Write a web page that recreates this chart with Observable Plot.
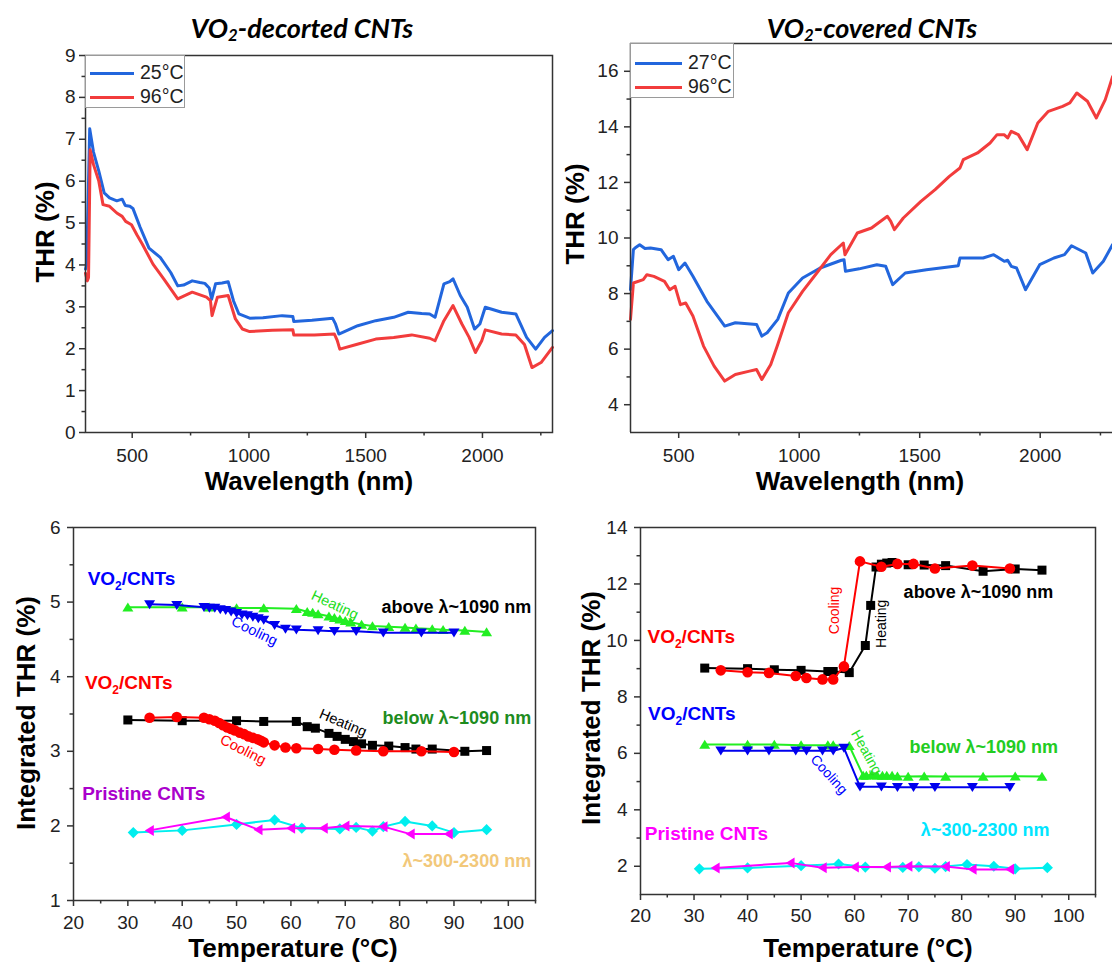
<!DOCTYPE html>
<html>
<head>
<meta charset="utf-8">
<script src="https://cdn.jsdelivr.net/npm/d3@7"></script>
<script src="https://cdn.jsdelivr.net/npm/@observablehq/plot@0.6"></script>
<style>
  html, body { margin: 0; padding: 0; background: #fff; overflow: hidden; }
  #page { position: relative; width: 1112px; height: 968px; font-family: "Liberation Sans", Arial, sans-serif; color: #000; }
  .title { position: absolute; font-family: Lato, "Open Sans", sans-serif; font-weight: bold; font-style: italic; font-size: 27px; line-height: 1; white-space: nowrap; transform: translate(-50%, -50%); }
  .title sub { font-size: 0.62em; vertical-align: -0.22em; line-height: 0; }
  .axtitle { position: absolute; font-weight: bold; font-size: 26px; line-height: 0.8; white-space: nowrap; transform: translate(-50%, -50%); }
  .axtitle.rot { transform: translate(-50%, -50%) rotate(-90deg); }
  .legend { position: absolute; box-sizing: border-box; border: 1px solid #9a9a9a; background: #fff; }
  .legend .sw { position: absolute; height: 3px; }
  .legend .lb { position: absolute; font-size: 19.5px; line-height: 1; transform: translateY(-50%); white-space: nowrap; color: #222; }
</style>
</head>
<body>
<div id="page"></div>
<script>
// ---------- Spectra: VO2-decorated CNTs ----------
const aWl25  = [300, 305, 318, 334, 357, 380, 403, 434, 457, 470, 490, 503, 534, 572, 620, 665, 695, 720, 757, 790, 811, 830, 840, 857, 885, 911, 934, 957, 1003, 1060, 1142, 1188, 1192, 1270, 1358, 1370, 1385, 1466, 1543, 1620, 1682, 1740, 1774, 1797, 1835, 1860, 1874, 1905, 1935, 1966, 1989, 2012, 2082, 2143, 2189, 2228, 2266, 2300];
const aThr25 = [3.90, 4.00, 7.25, 6.70, 6.24, 5.72, 5.60, 5.53, 5.57, 5.42, 5.40, 5.35, 4.90, 4.40, 4.18, 3.82, 3.50, 3.52, 3.62, 3.58, 3.56, 3.45, 3.18, 3.55, 3.57, 3.60, 3.14, 2.83, 2.73, 2.74, 2.79, 2.77, 2.65, 2.68, 2.73, 2.60, 2.35, 2.55, 2.67, 2.75, 2.87, 2.84, 2.83, 2.75, 3.55, 3.60, 3.67, 3.27, 2.99, 2.47, 2.59, 2.99, 2.87, 2.83, 2.27, 1.99, 2.27, 2.43];
const aWl96  = [300, 308, 313, 320, 334, 357, 375, 403, 434, 457, 472, 497, 520, 543, 589, 635, 695, 757, 818, 835, 842, 865, 911, 942, 972, 1003, 1100, 1188, 1192, 1280, 1366, 1378, 1389, 1460, 1543, 1620, 1697, 1774, 1797, 1835, 1874, 1912, 1943, 1970, 1997, 2012, 2082, 2143, 2180, 2212, 2251, 2300];
const aThr96 = [3.80, 3.62, 3.70, 6.75, 6.40, 6.00, 5.44, 5.40, 5.24, 5.16, 5.04, 4.96, 4.72, 4.50, 4.02, 3.67, 3.19, 3.35, 3.23, 3.15, 2.79, 3.23, 3.27, 2.71, 2.47, 2.41, 2.44, 2.45, 2.33, 2.33, 2.35, 2.20, 1.99, 2.10, 2.23, 2.27, 2.33, 2.25, 2.19, 2.67, 3.03, 2.59, 2.27, 1.91, 2.19, 2.45, 2.35, 2.33, 2.10, 1.55, 1.67, 2.03];

// ---------- Spectra: VO2-covered CNTs ----------
const bWl27  = [300, 312, 320, 338, 360, 383, 427, 456, 478, 500, 526, 559, 617, 691, 735, 823, 845, 867, 911, 955, 1014, 1087, 1175, 1186, 1192, 1249, 1322, 1359, 1388, 1440, 1528, 1660, 1667, 1675, 1763, 1807, 1851, 1865, 1880, 1902, 1939, 1998, 2057, 2101, 2130, 2189, 2218, 2262, 2300];
const bThr27 = [8.14, 9.58, 9.65, 9.76, 9.62, 9.64, 9.58, 9.22, 9.34, 8.86, 9.10, 8.62, 7.72, 6.83, 6.95, 6.89, 6.47, 6.59, 7.07, 8.02, 8.56, 8.92, 9.20, 9.22, 8.80, 8.89, 9.04, 8.98, 8.32, 8.74, 8.86, 9.00, 9.28, 9.28, 9.28, 9.40, 9.16, 9.20, 8.98, 8.92, 8.14, 9.04, 9.28, 9.40, 9.72, 9.46, 8.74, 9.16, 9.76];
const bWl96  = [300, 312, 353, 368, 397, 441, 463, 485, 507, 529, 559, 603, 647, 691, 735, 794, 823, 845, 882, 911, 955, 1014, 1073, 1131, 1183, 1190, 1241, 1300, 1366, 1380, 1395, 1432, 1505, 1564, 1623, 1667, 1681, 1740, 1792, 1821, 1850, 1865, 1880, 1909, 1946, 1990, 2034, 2093, 2123, 2152, 2196, 2233, 2270, 2300];
const bThr96 = [7.07, 8.38, 8.50, 8.68, 8.62, 8.44, 8.14, 8.26, 7.60, 7.66, 7.19, 6.11, 5.39, 4.85, 5.09, 5.21, 5.27, 4.91, 5.45, 6.17, 7.31, 8.08, 8.74, 9.40, 9.82, 9.40, 10.18, 10.36, 10.78, 10.60, 10.30, 10.72, 11.32, 11.74, 12.22, 12.52, 12.82, 13.06, 13.42, 13.72, 13.72, 13.60, 13.84, 13.72, 13.18, 14.14, 14.56, 14.74, 14.86, 15.22, 14.92, 14.32, 14.98, 15.80];

// ---------- Integrated THR vs temperature: VO2-decorated ----------
const cHeatAboveT = [30, 40, 45, 50, 55, 61, 63, 64, 65, 67, 68, 69, 70, 71, 73, 75, 78, 81, 83, 86, 88, 92, 96];
const cHeatAboveV = [4.93, 4.93, 4.93, 4.92, 4.92, 4.91, 4.87, 4.86, 4.84, 4.81, 4.79, 4.77, 4.75, 4.73, 4.70, 4.68, 4.67, 4.66, 4.65, 4.64, 4.63, 4.62, 4.60];
const cCoolAboveT = [34, 39, 44, 45, 46, 47, 48, 49, 50, 51, 52, 53, 54, 55, 57, 59, 61, 65, 68, 72, 77, 84, 90];
const cCoolAboveV = [4.97, 4.96, 4.93, 4.92, 4.92, 4.90, 4.89, 4.87, 4.85, 4.83, 4.82, 4.80, 4.78, 4.76, 4.69, 4.64, 4.63, 4.62, 4.61, 4.61, 4.59, 4.59, 4.59];
const cHeatBelowT = [30, 40, 50, 55, 61, 63, 64.5, 67, 68.5, 70, 71.5, 73, 75, 78, 81, 83, 86, 92, 96];
const cHeatBelowV = [3.42, 3.41, 3.41, 3.40, 3.40, 3.33, 3.31, 3.24, 3.20, 3.16, 3.13, 3.10, 3.08, 3.07, 3.05, 3.03, 3.03, 3.00, 3.01];
const cCoolBelowT = [34, 39, 44, 45, 46, 46.8, 47.5, 48.3, 49, 49.7, 50.6, 51.4, 52.2, 53, 53.9, 54.5, 55, 57, 59, 61, 65, 68, 72, 77, 84, 90];
const cCoolBelowV = [3.45, 3.46, 3.45, 3.43, 3.41, 3.38, 3.35, 3.32, 3.30, 3.28, 3.25, 3.23, 3.20, 3.18, 3.16, 3.14, 3.12, 3.08, 3.05, 3.04, 3.03, 3.02, 3.01, 3.00, 3.00, 2.99];

// ---------- Integrated THR vs temperature: VO2-covered ----------
const dHeatAboveT = [32, 40, 45, 50, 55, 56, 59, 62, 63, 64, 65, 66, 67, 70, 73, 77, 84, 90, 95];
const dHeatAboveV = [9.02, 9.00, 8.96, 8.94, 8.90, 8.90, 8.86, 9.82, 11.24, 12.60, 12.70, 12.74, 12.76, 12.68, 12.67, 12.65, 12.45, 12.53, 12.49];
const dCoolAboveT = [35, 40, 44, 49, 51, 54, 56, 58, 61, 65, 68, 71, 75, 82, 89];
const dCoolAboveV = [8.94, 8.87, 8.85, 8.74, 8.67, 8.62, 8.62, 9.08, 12.80, 12.61, 12.71, 12.71, 12.55, 12.65, 12.55];
const dHeatBelowT = [32, 40, 45, 50, 55, 56, 59, 61.6, 62.2, 63.2, 64.2, 65.2, 66, 67, 68, 70, 73, 77, 84, 90, 95];
const dHeatBelowV = [6.31, 6.31, 6.31, 6.29, 6.29, 6.29, 6.27, 5.21, 5.21, 5.24, 5.21, 5.21, 5.21, 5.21, 5.19, 5.18, 5.19, 5.18, 5.18, 5.19, 5.18];
const dCoolBelowT = [35, 40, 44, 49, 51, 54, 56, 58, 61, 65, 68, 71, 75, 82, 89];
const dCoolBelowV = [6.09, 6.09, 6.09, 6.09, 6.09, 6.09, 6.09, 6.19, 4.82, 4.82, 4.80, 4.80, 4.80, 4.80, 4.80];

// ---------- Pristine CNTs (λ~300-2300 nm) ----------
const prHeatT = [31, 40, 50, 57, 62, 69, 72, 75, 77, 81, 86, 90, 96];
const prHeatV = [1.91, 1.94, 2.02, 2.08, 1.97, 1.96, 1.98, 1.93, 1.99, 2.06, 2.00, 1.91, 1.95];
const prCoolT = [34, 48, 54, 60, 66, 70, 77, 82, 89];
const prCoolV = [1.94, 2.12, 1.95, 1.97, 1.97, 2.00, 1.99, 1.89, 1.89];

// ---------- Tick values ----------
const wlTicks = [500, 1000, 1500, 2000];
const wlMinor = [750, 1250, 1750, 2250];
const aYTicks = [0, 1, 2, 3, 4, 5, 6, 7, 8, 9];
const aYMinor = [0.5, 1.5, 2.5, 3.5, 4.5, 5.5, 6.5, 7.5, 8.5];
const bYTicks = [4, 6, 8, 10, 12, 14, 16];
const bYMinor = [5, 7, 9, 11, 13, 15];
const tTicks = [20, 30, 40, 50, 60, 70, 80, 90, 100];
const tMinor = [25, 35, 45, 55, 65, 75, 85, 95, 105];
const cYTicks = [1, 2, 3, 4, 5, 6];
const cYMinor = [1.5, 2.5, 3.5, 4.5, 5.5];
const dYTicks = [2, 4, 6, 8, 10, 12, 14];
const dYMinor = [3, 5, 7, 9, 11, 13];

// ---------- Marker shapes ----------
const k5 = s => Math.sqrt(s / Math.PI) / 5;
const sym = {
  up:     {draw(c, s) { const k = k5(s); c.moveTo(0, -4.8 * k); c.lineTo(5.5 * k, 4.2 * k); c.lineTo(-5.5 * k, 4.2 * k); c.closePath(); }},
  down:   {draw(c, s) { const k = k5(s); c.moveTo(-5.5 * k, -4.2 * k); c.lineTo(5.5 * k, -4.2 * k); c.lineTo(0, 4.8 * k); c.closePath(); }},
  left:   {draw(c, s) { const k = k5(s); c.moveTo(-4.8 * k, 0); c.lineTo(4.2 * k, -5.5 * k); c.lineTo(4.2 * k, 5.5 * k); c.closePath(); }},
  square: {draw(c, s) { const k = k5(s), h = 4.5 * k; c.rect(-h, -h, 2 * h, 2 * h); }},
  diamond:{draw(c, s) { const k = k5(s), h = 5.6 * k; c.moveTo(0, -h); c.lineTo(h, 0); c.lineTo(0, h); c.lineTo(-h, 0); c.closePath(); }},
  circle: {draw(c, s) { const k = k5(s), r = 5.3 * k; c.moveTo(r, 0); c.arc(0, 0, r, 0, 2 * Math.PI); }}
};

const page = document.getElementById("page");
const FONT = "'Liberation Sans', Arial, sans-serif";

function spectrum(xs, ys, color) {
  return Plot.line(ys, {x: xs, y: ys, stroke: color, strokeWidth: 3, strokeLinejoin: "round"});
}
function series(xs, ys, color, shape) {
  return [
    Plot.line(ys, {x: xs, y: ys, stroke: color, strokeWidth: 2}),
    Plot.dot(ys, {x: xs, y: ys, fill: color, stroke: "none", r: 5, symbol: shape})
  ];
}
function note(text, x, y, fill, o = {}) {
  return Plot.text([text], {
    x: [x], y: [y], text: d => d, fill,
    fontFamily: FONT,
    fontSize: o.size ?? 19,
    fontWeight: o.weight ?? "bold",
    textAnchor: o.anchor ?? "start",
    rotate: o.rotate ?? 0
  });
}
function axes(xT, xM, yT, yM, xPad, yPad) {
  const fmt = d => String(d);
  return [
    Plot.axisX(xT, {tickSize: 6, tickPadding: xPad, strokeWidth: 1.5, stroke: "#333", fill: "#222", tickFormat: fmt, label: null}),
    Plot.axisX(xM, {tickSize: 3.5, strokeWidth: 1.5, stroke: "#333", tickFormat: () => "", label: null}),
    Plot.axisY(yT, {tickSize: 6, tickPadding: yPad, strokeWidth: 1.5, stroke: "#333", fill: "#222", tickFormat: fmt, label: null}),
    Plot.axisY(yM, {tickSize: 3.5, strokeWidth: 1.5, stroke: "#333", tickFormat: () => "", label: null})
  ];
}
function place(p, left, top, opts, marks) {
  const svg = Plot.plot({
    width: p.w, height: p.h,
    marginLeft: p.ml, marginRight: p.mr, marginTop: p.mt, marginBottom: p.mb,
    x: {domain: opts.x, label: null},
    y: {domain: opts.y, label: null},
    style: {fontFamily: FONT, fontSize: "19px", background: "none", overflow: "visible"},
    marks
  });
  // subscript 2 in "VO2/CNTs"
  svg.querySelectorAll("text").forEach(t => {
    if (t.textContent === "VO2/CNTs") {
      t.textContent = "";
      const ns = "http://www.w3.org/2000/svg";
      const parts = [["VO", null], ["2", "sub"], ["/CNTs", "back"]];
      for (const [s, kind] of parts) {
        const ts = document.createElementNS(ns, "tspan");
        ts.textContent = s;
        if (kind === "sub") { ts.setAttribute("font-size", "12"); ts.setAttribute("dy", "5"); }
        if (kind === "back") { ts.setAttribute("dy", "-5"); }
        t.appendChild(ts);
      }
    }
  });
  svg.style.position = "absolute";
  svg.style.left = left + "px";
  svg.style.top = top + "px";
  page.appendChild(svg);
}
function html(cls, content, left, top) {
  const d = document.createElement("div");
  d.className = cls;
  d.innerHTML = content;
  d.style.left = left + "px";
  d.style.top = top + "px";
  page.appendChild(d);
}
function legend(left, top, w, h, rows) {
  const d = document.createElement("div");
  d.className = "legend";
  Object.assign(d.style, {left: left + "px", top: top + "px", width: w + "px", height: h + "px"});
  for (const r of rows) {
    const s = document.createElement("div");
    s.className = "sw";
    Object.assign(s.style, {left: r.x0 + "px", width: (r.x1 - r.x0) + "px", top: (r.y - 1.5) + "px", background: r.color});
    const l = document.createElement("div");
    l.className = "lb";
    l.textContent = r.label;
    Object.assign(l.style, {left: r.tx + "px", top: r.y + "px"});
    d.appendChild(s); d.appendChild(l);
  }
  page.appendChild(d);
}

const BLUE = "#2266dd", RED = "#f23c3c";
const frame = Plot.frame({stroke: "#333", strokeWidth: 1.5});

// ---------- Top left: spectra, VO2-decorated CNTs ----------
place({w: 560, h: 500, ml: 85, mr: 8, mt: 55, mb: 68}, 0, 0, {x: [300, 2300], y: [0, 9]}, [
  spectrum(aWl25, aThr25, BLUE),
  spectrum(aWl96, aThr96, RED),
  ...axes(wlTicks, wlMinor, aYTicks, aYMinor, 10, 4),
  frame
]);
legend(85, 55, 100, 53, [
  {x0: 4, x1: 48, y: 17, tx: 54, color: BLUE, label: "25°C"},
  {x0: 4, x1: 48, y: 41, tx: 54, color: RED, label: "96°C"}
]);

// ---------- Top right: spectra, VO2-covered CNTs ----------
place({w: 552, h: 500, ml: 70, mr: 0, mt: 43, mb: 68}, 560, 0, {x: [300, 2300], y: [3, 17]}, [
  spectrum(bWl27, bThr27, BLUE),
  spectrum(bWl96, bThr96, RED),
  ...axes(wlTicks, wlMinor, bYTicks, bYMinor, 10, 6),
  Plot.ruleX([300], {stroke: "#333", strokeWidth: 1.5}),
  Plot.ruleY([3, 17], {stroke: "#333", strokeWidth: 1.5})
]);
legend(630, 43, 104, 55, [
  {x0: 4, x1: 51, y: 19, tx: 57, color: BLUE, label: "27°C"},
  {x0: 4, x1: 51, y: 43, tx: 57, color: RED, label: "96°C"}
]);

// ---------- Bottom left: integrated THR, VO2-decorated CNTs ----------
place({w: 560, h: 468, ml: 73, mr: 25, mt: 27, mb: 68}, 0, 500, {x: [20, 105], y: [1, 6]}, [
  ...series(cHeatAboveT, cHeatAboveV, "#22ee22", sym.up),
  ...series(cCoolAboveT, cCoolAboveV, "#0000ee", sym.down),
  ...series(cHeatBelowT, cHeatBelowV, "#000000", sym.square),
  ...series(cCoolBelowT, cCoolBelowV, "#ff0000", sym.circle),
  ...series(prHeatT, prHeatV, "#00eeee", sym.diamond),
  ...series(prCoolT, prCoolV, "#ff00ff", sym.left),
  note("VO2/CNTs", 22.6, 5.31, "#0000ff"),
  note("above λ~1090 nm", 104.2, 4.93, "#000", {anchor: "end", size: 18}),
  note("Heating", 68.1, 4.96, "#22dd22", {weight: "normal", size: 14.5, rotate: 25, anchor: "middle"}),
  note("Cooling", 53.3, 4.61, "#0000ff", {weight: "normal", size: 14.5, rotate: 26, anchor: "middle"}),
  note("VO2/CNTs", 22.1, 3.92, "#ff0000"),
  note("below λ~1090 nm", 104.2, 3.44, "#1e8c1e", {anchor: "end", size: 18}),
  note("Heating", 69.6, 3.38, "#000", {weight: "normal", size: 14.5, rotate: 23, anchor: "middle"}),
  note("Cooling", 51.2, 3.02, "#ff0000", {weight: "normal", size: 14.5, rotate: 27, anchor: "middle"}),
  note("Pristine CNTs", 21.6, 2.43, "#aa00cc"),
  note("λ~300-2300 nm", 104.2, 1.53, "#f2c87a", {anchor: "end", size: 18}),
  ...axes(tTicks, tMinor, cYTicks, cYMinor, 9, 7),
  frame
]);

// ---------- Bottom right: integrated THR, VO2-covered CNTs ----------
place({w: 552, h: 468, ml: 80, mr: 17, mt: 27, mb: 74}, 560, 500, {x: [20, 105], y: [1, 14]}, [
  ...series(dHeatAboveT, dHeatAboveV, "#000000", sym.square),
  ...series(dCoolAboveT, dCoolAboveV, "#ff0000", sym.circle),
  ...series(dHeatBelowT, dHeatBelowV, "#22ee22", sym.up),
  ...series(dCoolBelowT, dCoolBelowV, "#0000ee", sym.down),
  ...series(prHeatT, prHeatV, "#00eeee", sym.diamond),
  ...series(prCoolT, prCoolV, "#ff00ff", sym.left),
  note("VO2/CNTs", 21.3, 10.12, "#ff0000"),
  note("above λ~1090 nm", 97.1, 11.71, "#000", {anchor: "end", size: 18}),
  note("Cooling", 56.2, 11.06, "#ff0000", {weight: "normal", size: 14, rotate: -90, anchor: "middle"}),
  note("Heating", 65, 10.59, "#000", {weight: "normal", size: 14, rotate: -90, anchor: "middle"}),
  note("VO2/CNTs", 21.4, 7.41, "#0000ff"),
  note("Heating", 62.2, 6.04, "#22dd22", {weight: "normal", size: 14, rotate: 61, anchor: "middle"}),
  note("Cooling", 55.2, 5.25, "#0000ff", {weight: "normal", size: 14, rotate: 48, anchor: "middle"}),
  note("below λ~1090 nm", 98.0, 6.21, "#22cc22", {anchor: "end", size: 18}),
  note("λ~300-2300 nm", 96.4, 3.29, "#00e5ff", {anchor: "end", size: 18}),
  note("Pristine CNTs", 20.8, 3.15, "#ff00ff"),
  ...axes(tTicks, tMinor, dYTicks, dYMinor, 8, 7),
  frame
]);

// ---------- Titles and axis titles ----------
html("title", "VO<sub>2</sub>-decorted CNTs", 302, 27);
html("title", "VO<sub>2</sub>-covered CNTs", 872, 27);
html("axtitle rot", "THR (%)", 45, 232);
html("axtitle", "Wavelength (nm)", 309, 481);
html("axtitle rot", "THR (%)", 575, 214);
html("axtitle", "Wavelength (nm)", 860, 481);
html("axtitle rot", "Integrated THR (%)", 26, 713);
html("axtitle", "Temperature (°C)", 293, 948);
html("axtitle rot", "Integrated THR (%)", 591, 708);
html("axtitle", "Temperature (°C)", 868, 948);
</script>
</body>
</html>
